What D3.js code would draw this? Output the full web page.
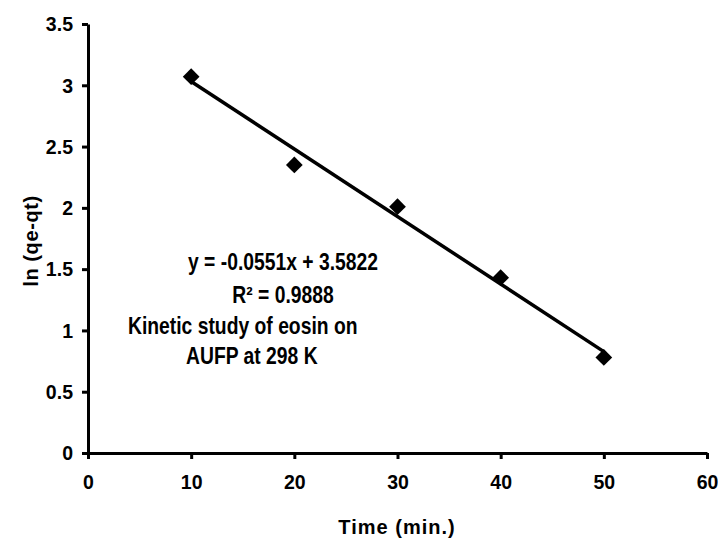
<!DOCTYPE html>
<html>
<head>
<meta charset="utf-8">
<script src="https://cdn.jsdelivr.net/npm/d3@7"></script>
<style>
  body { margin: 0; background: #fff; }
  text { font-family: "Liberation Sans", Arial, sans-serif; font-weight: bold; fill: #000; }
</style>
</head>
<body>
<svg id="chart" width="718" height="551"></svg>
<script>
// data
var times = [10, 20, 30, 40, 50];
var lnValues = [3.07, 2.35, 2.01, 1.43, 0.78];
var xTicks = [0, 10, 20, 30, 40, 50, 60];
var yTicks = [0, 0.5, 1, 1.5, 2, 2.5, 3, 3.5];
var slope = -0.0551;
var intercept = 3.5822;
var notes = ["y = -0.0551x + 3.5822", "R² = 0.9888", "Kinetic study of eosin on", "AUFP at 298 K"];

var svg = d3.select("#chart");
var margin = { top: 24, right: 11, bottom: 98, left: 88 };
var width = 718 - margin.left - margin.right;
var height = 551 - margin.top - margin.bottom;
var squeeze = 0.93; // the source font is a narrow one

var g = svg.append("g").attr("transform", "translate(" + margin.left + "," + margin.top + ")");

var x = d3.scaleLinear().domain([0, 60]).range([0, width]);
var y = d3.scaleLinear().domain([0, 3.5]).range([height, 0]);

// axes
var xAxis = g.append("g")
  .attr("transform", "translate(0," + height + ")")
  .call(d3.axisBottom(x).tickValues(xTicks).tickFormat(d3.format("d")).tickSize(6).tickSizeOuter(0).tickPadding(15));
var yAxis = g.append("g")
  .call(d3.axisLeft(y).tickValues(yTicks).tickFormat(function (d) { return d; }).tickSize(6).tickSizeOuter(0).tickPadding(8));

[xAxis, yAxis].forEach(function (a) {
  a.select(".domain").attr("stroke", "#000").attr("stroke-width", 3);
  a.selectAll(".tick line").attr("stroke", "#000").attr("stroke-width", 3);
  a.selectAll(".tick text")
    .style("font-size", "21px")
    .style("font-family", "'Liberation Sans', Arial, sans-serif")
    .style("font-weight", "bold")
    .attr("fill", "#000");
});
xAxis.selectAll(".tick text").attr("transform", "scale(" + squeeze + ",1)");
yAxis.selectAll(".tick text")
  .attr("x", -15 / squeeze)
  .attr("transform", "scale(" + squeeze + ",1)");

// trend line
var xr = d3.extent(times);
g.append("line")
  .attr("x1", x(xr[0])).attr("y1", y(slope * xr[0] + intercept))
  .attr("x2", x(xr[1])).attr("y2", y(slope * xr[1] + intercept))
  .attr("stroke", "#000").attr("stroke-width", 3.5);

// points
g.selectAll(".pt")
  .data(times)
  .enter().append("path")
  .attr("class", "pt")
  .attr("d", d3.symbol().type(d3.symbolSquare).size(140))
  .attr("transform", function (d, i) { return "translate(" + x(d) + "," + y(lnValues[i]) + ") rotate(45)"; })
  .attr("fill", "#000");

// annotation text
var notePos = [
  { x: 283, y: 270, anchor: "middle" },
  { x: 283, y: 303, anchor: "middle" },
  { x: 128, y: 334, anchor: "start" },
  { x: 186, y: 364, anchor: "start" }
];
svg.selectAll(".note")
  .data(notes)
  .enter().append("g")
  .attr("class", "note")
  .attr("transform", function (d, i) { return "translate(" + notePos[i].x + "," + notePos[i].y + ")"; })
  .append("text")
  .attr("transform", "scale(0.84,1)")
  .attr("text-anchor", function (d, i) { return notePos[i].anchor; })
  .style("font-size", "23px")
  .text(function (d) { return d; });

// axis titles
svg.append("text")
  .attr("x", 397)
  .attr("y", 534)
  .attr("text-anchor", "middle")
  .style("font-size", "20px")
  .style("letter-spacing", "1px")
  .text("Time (min.)");

svg.append("text")
  .attr("transform", "translate(38,241) rotate(-90)")
  .attr("text-anchor", "middle")
  .style("font-size", "20px")
  .style("letter-spacing", "0.6px")
  .text("ln (qe-qt)");
</script>
</body>
</html>
